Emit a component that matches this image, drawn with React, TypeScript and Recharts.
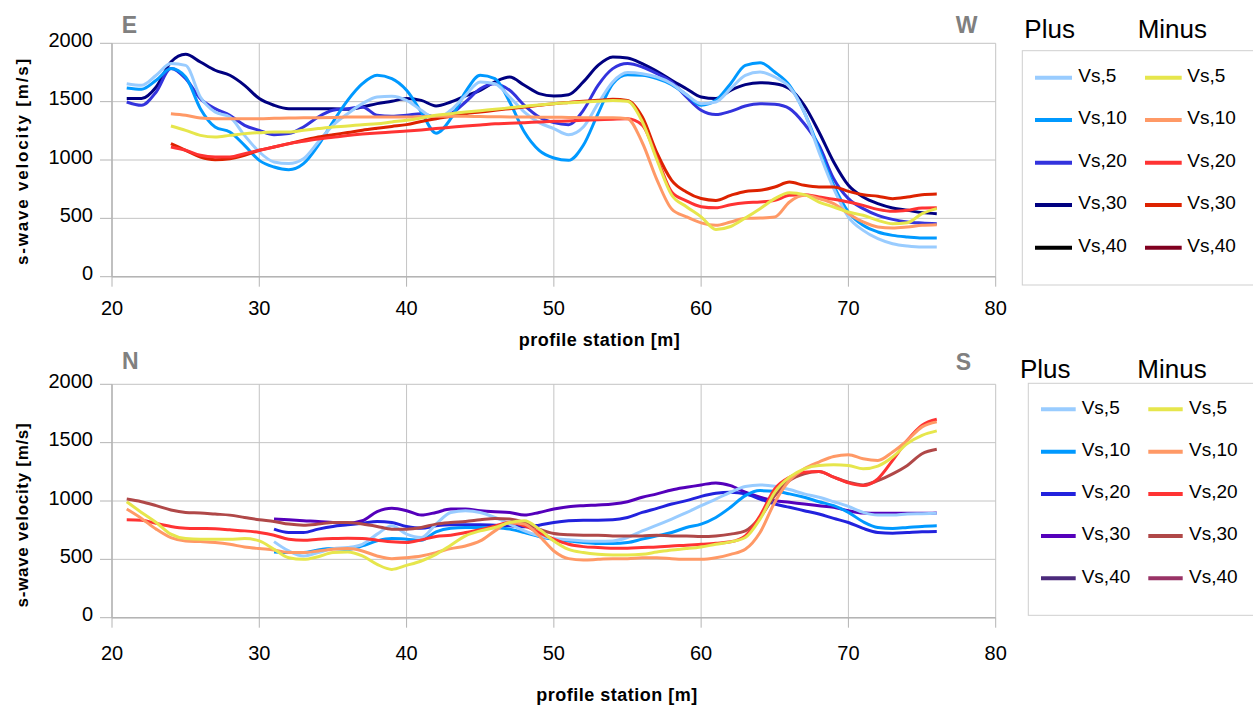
import { CartesianGrid, Line, LineChart, XAxis, YAxis } from "recharts";

const stations = [
  21, 22, 23, 24, 25, 26, 27, 28, 29, 30,
  31, 32, 33, 34, 35, 36, 37, 38, 39, 40,
  41, 42, 43, 44, 45, 46, 47, 48, 49, 50,
  51, 52, 53, 54, 55, 56, 57, 58, 59, 60,
  61, 62, 63, 64, 65, 66, 67, 68, 69, 70,
  71, 72, 73, 74, 75, 76,
];

const xTicks = [20, 30, 40, 50, 60, 70, 80];
const yTicks = [0, 500, 1000, 1500, 2000];
const depthNames = ["Vs,5", "Vs,10", "Vs,20", "Vs,30", "Vs,40"];

// E-W profile, plus shots
const ewPlus5 = [
  1654, 1640, 1726, 1826, 1811, 1540, 1411, 1369, 1211, 1069,
  983, 969, 1011, 1154, 1297, 1397, 1483, 1540, 1546, 1511,
  1426, 1354, 1426, 1554, 1669, 1654, 1540, 1411, 1320, 1269,
  1217, 1283, 1483, 1669, 1749, 1740, 1711, 1654, 1560, 1483,
  1497, 1611, 1726, 1754, 1711, 1626, 1411, 1069, 754, 511,
  397, 326, 283, 263, 254, 254,
];
const ewPlus10 = [
  1617, 1606, 1683, 1783, 1711, 1440, 1283, 1240, 1126, 997,
  940, 917, 969, 1126, 1326, 1511, 1654, 1726, 1697, 1597,
  1411, 1230, 1354, 1583, 1726, 1697, 1497, 1240, 1083, 1017,
  997, 1126, 1397, 1654, 1731, 1726, 1697, 1646, 1560, 1469,
  1511, 1654, 1811, 1834, 1754, 1640, 1411, 1097, 783, 554,
  440, 383, 354, 340, 331, 331,
];
const ewPlus20 = [
  1497, 1469, 1583, 1783, 1697, 1526, 1440, 1383, 1297, 1254,
  1217, 1226, 1283, 1369, 1426, 1440, 1454, 1383, 1374, 1383,
  1397, 1369, 1397, 1497, 1611, 1654, 1597, 1469, 1369, 1320,
  1303, 1426, 1640, 1783, 1826, 1797, 1740, 1669, 1540, 1426,
  1389, 1417, 1463, 1483, 1477, 1440, 1311, 1126, 840, 669,
  583, 526, 491, 469, 460, 454,
];
const ewPlus30 = [
  1526, 1526, 1626, 1840, 1906, 1840, 1769, 1726, 1640, 1526,
  1469, 1440, 1440, 1440, 1440, 1434, 1454, 1483, 1503, 1526,
  1511, 1463, 1497, 1549, 1597, 1669, 1711, 1640, 1569, 1549,
  1560, 1669, 1811, 1883, 1874, 1826, 1760, 1683, 1611, 1540,
  1526, 1597, 1646, 1663, 1654, 1611, 1469, 1240, 983, 783,
  683, 626, 589, 569, 549, 540,
];

// E-W profile, minus shots
const ewMinus5 = [
  null, null, null, 1291, 1254, 1211, 1197, 1211, 1226, 1234,
  1240, 1240, 1254, 1269, 1283, 1291, 1303, 1311, 1326, 1340,
  1360, 1383, 1397, 1411, 1423, 1434, 1447, 1460, 1471, 1483,
  1490, 1497, 1503, 1509, 1503, 1330, 1000, 700, 600, 513,
  405, 430, 503, 583, 669, 720, 703, 640, 597, 554,
  526, 483, 454, 463, 540, 583,
];
const ewMinus10 = [
  null, null, null, 1397, 1383, 1360, 1354, 1354, 1354, 1354,
  1357, 1360, 1361, 1363, 1365, 1369, 1369, 1369, 1369, 1369,
  1371, 1374, 1374, 1374, 1372, 1371, 1369, 1369, 1367, 1366,
  1365, 1363, 1363, 1363, 1354, 1150, 830, 580, 513, 461,
  440, 469, 500, 503, 511, 640, 697, 669, 626, 540,
  469, 426, 417, 426, 440, 446,
];
const ewMinus20 = [
  null, null, null, 1111, 1083, 1040, 1026, 1026, 1054, 1083,
  1111, 1140, 1160, 1180, 1195, 1210, 1222, 1232, 1240, 1249,
  1258, 1269, 1280, 1291, 1300, 1311, 1315, 1320, 1326, 1331,
  1335, 1340, 1345, 1350, 1354, 1300, 1020, 726, 650, 600,
  590, 617, 634, 640, 654, 697, 703, 683, 663, 640,
  611, 577, 560, 569, 589, 591,
];
const ewMinus30 = [
  null, null, null, 1140, 1083, 1026, 1003, 1011, 1040, 1083,
  1111, 1140, 1169, 1197, 1217, 1235, 1255, 1272, 1288, 1303,
  1330, 1354, 1375, 1397, 1411, 1426, 1440, 1454, 1469, 1483,
  1493, 1503, 1511, 1520, 1511, 1370, 1060, 826, 726, 670,
  654, 697, 731, 740, 769, 811, 783, 769, 769, 731,
  703, 689, 669, 683, 703, 709,
];

// N-S profile, plus shots
const nsPlus5 = [
  null, null, null, null, null, null, null, null, null, null,
  652, 572, 529, 558, 592, 601, 629, 716, 787, 716,
  687, 802, 902, 917, 902, 859, 802, 744, 701, 678,
  667, 658, 655, 658, 687, 744, 793, 845, 900, 960,
  1017, 1075, 1124, 1138, 1127, 1098, 1061, 1032, 994, 954,
  902, 879, 879, 888, 891, 894,
];
const nsPlus10 = [
  null, null, null, null, null, null, null, null, null, null,
  563, 558, 558, 581, 592, 586, 615, 658, 678, 673,
  664, 736, 767, 773, 773, 770, 759, 730, 696, 673,
  658, 644, 635, 635, 644, 673, 701, 730, 773, 802,
  859, 946, 1046, 1089, 1083, 1061, 1032, 994, 960, 902,
  822, 773, 765, 773, 782, 787,
];
const nsPlus20 = [
  null, null, null, null, null, null, null, null, null, null,
  759, 730, 730, 759, 782, 796, 810, 825, 816, 782,
  767, 787, 796, 796, 796, 793, 787, 779, 793, 816,
  831, 836, 836, 839, 859, 902, 937, 974, 1003, 1040,
  1066, 1075, 1061, 1017, 974, 946, 917, 888, 851, 816,
  765, 730, 724, 730, 736, 739,
];
const nsPlus30 = [
  null, null, null, null, null, null, null, null, null, null,
  845, 839, 831, 825, 816, 810, 831, 908, 937, 917,
  879, 902, 931, 931, 917, 908, 902, 879, 902, 931,
  951, 960, 966, 974, 994, 1032, 1061, 1095, 1118, 1138,
  1155, 1132, 1075, 1032, 1003, 989, 974, 960, 946, 917,
  897, 894, 894, 894, 894, 897,
];

// N-S profile, minus shots
const nsMinus5 = [
  994, 902, 816, 716, 678, 672, 672, 672, 678, 658,
  586, 514, 500, 523, 558, 563, 529, 457, 414, 448,
  486, 543, 621, 701, 744, 773, 816, 831, 759, 658,
  586, 558, 543, 537, 537, 543, 563, 581, 592, 606,
  629, 650, 687, 845, 1075, 1204, 1276, 1305, 1310, 1305,
  1276, 1299, 1377, 1492, 1563, 1601,
];
const nsMinus10 = [
  931, 851, 759, 687, 658, 652, 644, 629, 606, 592,
  581, 558, 558, 572, 586, 592, 572, 529, 506, 514,
  529, 558, 592, 615, 658, 744, 816, 802, 701, 572,
  506, 494, 500, 506, 506, 514, 514, 506, 500, 500,
  514, 543, 586, 730, 989, 1175, 1276, 1334, 1382, 1397,
  1362, 1348, 1420, 1520, 1635, 1678,
];
const nsMinus20 = [
  839, 836, 808, 782, 767, 764, 762, 753, 744, 730,
  707, 672, 664, 672, 678, 681, 678, 664, 650, 644,
  667, 696, 707, 730, 753, 787, 816, 787, 730, 673,
  629, 609, 601, 595, 595, 601, 606, 615, 621, 629,
  638, 650, 701, 874, 1104, 1204, 1247, 1253, 1204, 1155,
  1132, 1190, 1348, 1520, 1650, 1701,
];
const nsMinus30 = [
  1017, 994, 960, 923, 902, 897, 888, 879, 859, 839,
  825, 802, 793, 802, 816, 816, 802, 782, 759, 759,
  773, 802, 816, 825, 839, 851, 845, 816, 759, 721,
  710, 707, 707, 701, 701, 701, 707, 701, 701, 696,
  701, 716, 744, 859, 1046, 1175, 1233, 1253, 1204, 1161,
  1138, 1175, 1233, 1305, 1405, 1443,
];

const ewPlusColors = ["#99ccff", "#0099ff", "#3333dd", "#000080", "#000000"];
const ewMinusColors = ["#e6e64c", "#ff9966", "#ff3333", "#dd2200", "#800020"];
const nsPlusColors = ["#99ccff", "#0099ff", "#2222dd", "#5500bb", "#4b2a7b"];
const nsMinusColors = ["#e6e64c", "#ff9966", "#ff3333", "#b04848", "#993366"];

const gridGray = "#c4c4c4";
const axisGray = "#b4b4b4";
const font = '"Liberation Sans", Arial, sans-serif';

type Values = (number | null)[];

function buildRows(plus: Values[], minus: Values[]) {
  return stations.map((x, i) => {
    const row: Record<string, number | null> = { x };
    plus.forEach((s, k) => (row[`p${k}`] = s[i]));
    minus.forEach((s, k) => (row[`m${k}`] = s[i]));
    return row;
  });
}

function Profile({
  plus,
  minus,
  plusColors,
  minusColors,
  top,
  height,
  tickDy,
}: {
  plus: Values[];
  minus: Values[];
  plusColors: string[];
  minusColors: string[];
  top: number;
  height: number;
  tickDy: number;
}) {
  const data = buildRows(plus, minus);
  // deeper series first so the shallow ones sit on top
  const order = plus.map((_, k) => plus.length - 1 - k);
  return (
    <div style={{ position: "absolute", left: 0, top }}>
      <LineChart
        width={1030}
        height={height}
        data={data}
        margin={{ top: 43.3, right: 34.3, bottom: 0, left: 0 }}
      >
        <CartesianGrid stroke={gridGray} />
        <XAxis
          dataKey="x"
          type="number"
          domain={[20, 80]}
          ticks={xTicks}
          interval={0}
          height={height - 276.7}
          tickSize={10}
          tickMargin={0}
          axisLine={{ stroke: axisGray, strokeWidth: 1.5 }}
          tickLine={{ stroke: axisGray }}
          tick={(p: any) => (
            <text
              x={p.x}
              y={p.y + tickDy}
              textAnchor="middle"
              fontSize={20}
              fontFamily={font}
              fill="#000"
            >
              {p.payload.value}
            </text>
          )}
        />
        <YAxis
          type="number"
          domain={[0, 2000]}
          ticks={yTicks}
          interval={0}
          width={112}
          tickSize={12}
          tickMargin={7}
          axisLine={{ stroke: axisGray, strokeWidth: 1.5 }}
          tickLine={{ stroke: axisGray }}
          tick={(p: any) => (
            <text
              x={p.x}
              y={p.y + 3.7}
              textAnchor="end"
              fontSize={20}
              fontFamily={font}
              fill="#000"
            >
              {p.payload.value}
            </text>
          )}
        />
        {order.map((k) => (
          <Line
            key={`p${k}`}
            dataKey={`p${k}`}
            type="monotone"
            stroke={plusColors[k]}
            strokeWidth={3}
            dot={false}
            activeDot={false}
            isAnimationActive={false}
          />
        ))}
        {order.map((k) => (
          <Line
            key={`m${k}`}
            dataKey={`m${k}`}
            type="monotone"
            stroke={minusColors[k]}
            strokeWidth={3}
            dot={false}
            activeDot={false}
            isAnimationActive={false}
          />
        ))}
      </LineChart>
    </div>
  );
}

function LegendBox({
  boxX,
  boxY,
  boxH,
  titleY,
  plusTitleX,
  minusTitleX,
  rows,
  col1,
  col2,
  plusColors,
  minusColors,
}: {
  boxX: number;
  boxY: number;
  boxH: number;
  titleY: number;
  plusTitleX: number;
  minusTitleX: number;
  rows: number[];
  col1: number[];
  col2: number[];
  plusColors: string[];
  minusColors: string[];
}) {
  const entry = (col: number[], color: string, name: string, y: number) => (
    <g key={`${col[0]}-${name}`}>
      <line x1={col[0]} x2={col[1]} y1={y} y2={y} stroke={color} strokeWidth={4} />
      <text x={col[2]} y={y + 4.3} fontSize={19} fontFamily={font} fill="#000">
        {name}
      </text>
    </g>
  );
  return (
    <g>
      <text x={plusTitleX} y={titleY} fontSize={26} fontFamily={font} fill="#000">
        Plus
      </text>
      <text x={minusTitleX} y={titleY} fontSize={26} fontFamily={font} fill="#000">
        Minus
      </text>
      <rect x={boxX} y={boxY} width={260} height={boxH} fill="none" stroke="#cfcfcf" />
      {depthNames.map((name, i) => entry(col1, plusColors[i], name, rows[i]))}
      {depthNames.map((name, i) => entry(col2, minusColors[i], name, rows[i]))}
    </g>
  );
}

const compass = { fontSize: 23, fontWeight: 700, fill: "#808080", fontFamily: font };
const axisTitle = { fontSize: 17, fontWeight: 700, fill: "#000", fontFamily: font };

export default function App() {
  return (
    <div
      style={{
        position: "absolute",
        left: 0,
        top: 0,
        width: 1253,
        height: 706,
        overflow: "hidden",
        background: "#fff",
        fontFamily: font,
      }}
    >
      <Profile
        plus={[ewPlus5, ewPlus10, ewPlus20, ewPlus30]}
        minus={[ewMinus5, ewMinus10, ewMinus20, ewMinus30]}
        plusColors={ewPlusColors}
        minusColors={ewMinusColors}
        top={0}
        height={335}
        tickDy={28.5}
      />
      <Profile
        plus={[nsPlus5, nsPlus10, nsPlus20, nsPlus30]}
        minus={[nsMinus5, nsMinus10, nsMinus20, nsMinus30]}
        plusColors={nsPlusColors}
        minusColors={nsMinusColors}
        top={340.7}
        height={365}
        tickDy={32.6}
      />
      <svg
        width={1253}
        height={706}
        style={{ position: "absolute", left: 0, top: 0, pointerEvents: "none" }}
      >
        <text x={121.7} y={33.3} {...compass}>E</text>
        <text x={955.7} y={32.7} {...compass}>W</text>
        <text x={122} y={369.3} {...compass}>N</text>
        <text x={955.7} y={370} {...compass}>S</text>

        <text
          transform="translate(28,161) rotate(-90)"
          textAnchor="middle"
          letterSpacing={1.8}
          {...axisTitle}
        >
          s-wave velocity [m/s]
        </text>
        <text
          transform="translate(28,515) rotate(-90)"
          textAnchor="middle"
          letterSpacing={0.7}
          {...axisTitle}
        >
          s-wave velocity [m/s]
        </text>
        <text x={599.5} y={346} textAnchor="middle" letterSpacing={0.5} {...axisTitle} fontSize={18}>
          profile station [m]
        </text>
        <text x={617} y={701} textAnchor="middle" letterSpacing={0.5} {...axisTitle} fontSize={18}>
          profile station [m]
        </text>

        <LegendBox
          boxX={1022.3}
          boxY={50.7}
          boxH={234.3}
          titleY={38.3}
          plusTitleX={1024.3}
          minusTitleX={1137.7}
          rows={[77.7, 120, 162.7, 205, 247.7]}
          col1={[1035, 1072, 1078.3]}
          col2={[1145, 1181.7, 1187.3]}
          plusColors={ewPlusColors}
          minusColors={ewMinusColors}
        />
        <LegendBox
          boxX={1028.3}
          boxY={383.3}
          boxH={232}
          titleY={378.3}
          plusTitleX={1020}
          minusTitleX={1137.3}
          rows={[409.3, 451.7, 494, 536, 578.3]}
          col1={[1041, 1075.7, 1081.7]}
          col2={[1148.3, 1182.7, 1189]}
          plusColors={nsPlusColors}
          minusColors={nsMinusColors}
        />
      </svg>
    </div>
  );
}
